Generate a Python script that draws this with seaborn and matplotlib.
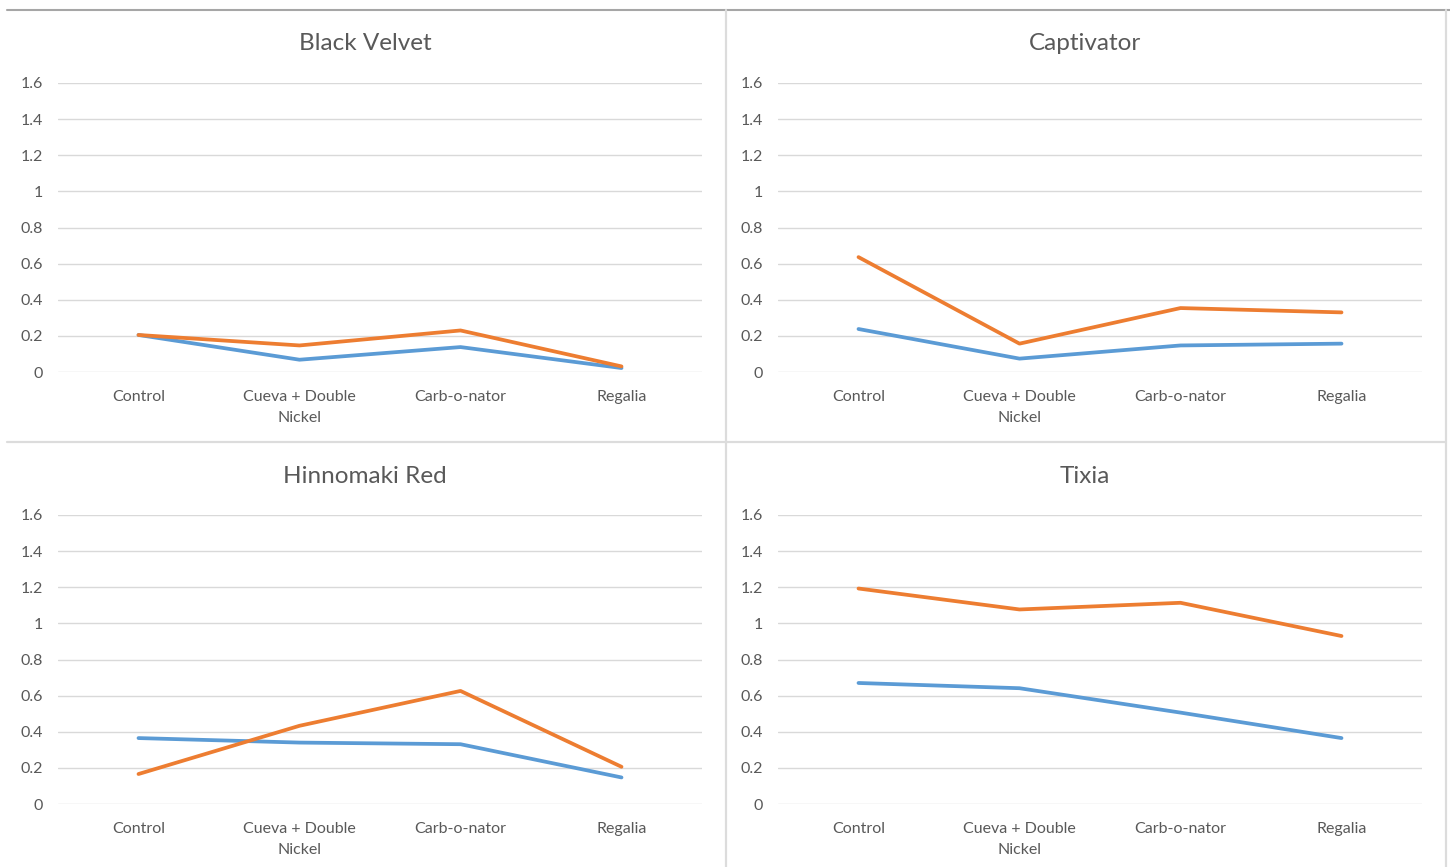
import matplotlib
matplotlib.use("Agg")
import matplotlib.pyplot as plt
from matplotlib.lines import Line2D
import seaborn as sns
import pandas as pd

# Treatments on the x axis
treatments = ["Control", "Cueva + Double\nNickel", "Carb-o-nator", "Regalia"]

# Varieties (one panel each)
varieties = ["Black Velvet", "Captivator", "Hinnomaki Red", "Tixia"]

# Blue series per variety
blue_black_velvet = [0.205, 0.068, 0.138, 0.022]
blue_captivator = [0.238, 0.074, 0.147, 0.157]
blue_hinnomaki = [0.365, 0.340, 0.331, 0.147]
blue_tixia = [0.670, 0.641, 0.506, 0.365]

# Orange series per variety
orange_black_velvet = [0.205, 0.147, 0.230, 0.031]
orange_captivator = [0.636, 0.157, 0.354, 0.330]
orange_hinnomaki = [0.166, 0.433, 0.626, 0.206]
orange_tixia = [1.193, 1.077, 1.114, 0.930]

y_ticks = [0, 0.2, 0.4, 0.6, 0.8, 1, 1.2, 1.4, 1.6]
y_tick_labels = ["0", "0.2", "0.4", "0.6", "0.8", "1", "1.2", "1.4", "1.6"]

blue_sets = [blue_black_velvet, blue_captivator, blue_hinnomaki, blue_tixia]
orange_sets = [orange_black_velvet, orange_captivator, orange_hinnomaki, orange_tixia]

sns.set_theme(style="white")
plt.rcParams["font.family"] = ["Lato", "DejaVu Sans"]

W, H = 1450, 867
fig = plt.figure(figsize=(W / 100, H / 100), dpi=100)

# Panel placement in pixels: (left, top-of-plot, bottom-of-plot, title centre x, title y)
panel_px = [(58, 83, 372, 365, 44), (778, 83, 372, 1085, 44),
            (58, 515, 804, 365, 476), (778, 515, 804, 1085, 476)]
plot_w = 644

palette = {"Series1": "#5B9BD5", "Series2": "#ED7D31"}
text_grey = "#595959"

for name, blue, orange, (lx, ty, by, tx, tyy) in zip(varieties, blue_sets, orange_sets, panel_px):
    ax = fig.add_axes([lx / W, (H - by) / H, plot_w / W, (by - ty) / H])
    df = pd.DataFrame({
        "treatment": treatments * 2,
        "value": blue + orange,
        "series": ["Series1"] * 4 + ["Series2"] * 4,
    })
    sns.lineplot(data=df, x="treatment", y="value", hue="series", palette=palette,
                 linewidth=2.7, legend=False, ax=ax, sort=False)
    ax.set_xlim(-0.5, 3.5)
    ax.set_ylim(0, 1.6)
    ax.set_yticks(y_ticks)
    ax.set_yticklabels(y_tick_labels)
    ax.set_xlabel("")
    ax.set_ylabel("")
    ax.yaxis.grid(True, color="#D9D9D9", linewidth=1.0)
    ax.set_axisbelow(True)
    for s in ax.spines.values():
        s.set_visible(False)
    ax.tick_params(axis="both", length=0, colors=text_grey, labelsize=11.5)
    ax.tick_params(axis="y", pad=11)
    ax.tick_params(axis="x", pad=13)
    for lbl in ax.get_xticklabels():
        lbl.set_linespacing(1.65)
    fig.text(tx / W, 1 - tyy / H, name, fontsize=17.5, color=text_grey,
             ha="center", va="center")
    for ln in ax.lines:
        ln.set_solid_capstyle("round")
        ln.set_solid_joinstyle("round")

# Frame lines separating the panels
def px_line(x0, y0, x1, y1, color, lw):
    fig.add_artist(Line2D([x0 / W, x1 / W], [1 - y0 / H, 1 - y1 / H],
                          transform=fig.transFigure, color=color, linewidth=lw))

px_line(7, 10, W, 10, "#a6a6a6", 1.5)
px_line(726, 10, 726, H, "#dcdcdc", 1.6)
px_line(7, 442, 1446, 442, "#dcdcdc", 1.6)
px_line(1446, 10, 1446, H, "#dcdcdc", 1.6)

fig.savefig("out.png", dpi=100, facecolor="white")
